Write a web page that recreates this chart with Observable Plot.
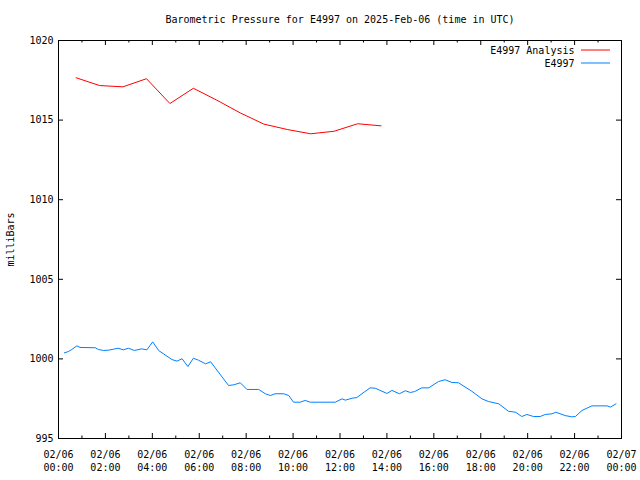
<!DOCTYPE html>
<html><head><meta charset="utf-8">
<script src="https://cdn.jsdelivr.net/npm/d3@7"></script>
<script src="https://cdn.jsdelivr.net/npm/@observablehq/plot@0.6"></script>
<style>html,body{margin:0;padding:0;background:#fff} svg{display:block}</style>
</head><body><div id="chart"></div>
<script>
const titleText = "Barometric Pressure for E4997 on 2025-Feb-06 (time in UTC)";
const yLabel = "milliBars";
const seriesNames = ["E4997 Analysis", "E4997"];
const seriesColors = ["#ff0000", "#0080ff"];
const day = "2025-02-06";

const analysisTimes = ["00:45","01:45","02:45","03:45","04:45","05:45","06:45","07:45","08:45","09:45","10:45","11:45","12:45","13:45"];
const analysisValues = [1017.66,1017.17,1017.09,1017.60,1016.04,1017.00,1016.25,1015.45,1014.75,1014.41,1014.14,1014.30,1014.77,1014.64];

const stationTimes = ["00:15","00:25","00:34","00:47","00:55","01:34","01:42","01:55","02:08","02:21","02:32","02:46","02:59","03:14","03:33","03:46","04:01","04:16","04:50","05:03","05:16","05:31","05:45","05:58","06:16","06:29","07:15","07:28","07:45","08:02","08:32","08:49","09:02","09:14","09:36","09:49","10:01","10:18","10:31","10:44","11:48","12:05","12:14","12:31","12:43","12:56","13:17","13:30","14:00","14:13","14:32","14:47","15:00","15:11","15:29","15:47","16:12","16:29","16:46","17:03","17:37","18:03","18:20","18:46","19:11","19:29","19:45","19:58","20:15","20:32","20:45","21:02","21:12","21:36","21:53","22:02","22:19","22:44","23:23","23:32","23:46"];
const stationValues = [1000.38,1000.46,1000.59,1000.82,1000.72,1000.70,1000.59,1000.53,1000.55,1000.61,1000.67,1000.57,1000.67,1000.53,1000.63,1000.57,1001.07,1000.53,999.96,999.86,1000.01,999.52,1000.04,999.92,999.69,999.82,998.33,998.37,998.50,998.08,998.08,997.81,997.70,997.81,997.81,997.70,997.28,997.28,997.39,997.28,997.28,997.49,997.41,997.53,997.57,997.81,998.18,998.16,997.83,998.02,997.81,998.00,997.89,997.95,998.18,998.18,998.58,998.69,998.52,998.50,997.97,997.49,997.32,997.18,996.71,996.65,996.38,996.51,996.38,996.38,996.51,996.55,996.65,996.44,996.36,996.38,996.76,997.05,997.05,996.97,997.18];

const yTicks = [995, 1000, 1005, 1010, 1015, 1020];
const xTickTimes = ["2025-02-06T00:00Z","2025-02-06T02:00Z","2025-02-06T04:00Z","2025-02-06T06:00Z","2025-02-06T08:00Z","2025-02-06T10:00Z","2025-02-06T12:00Z","2025-02-06T14:00Z","2025-02-06T16:00Z","2025-02-06T18:00Z","2025-02-06T20:00Z","2025-02-06T22:00Z","2025-02-07T00:00Z"];
const xTickLabels = ["02/06\n00:00","02/06\n02:00","02/06\n04:00","02/06\n06:00","02/06\n08:00","02/06\n10:00","02/06\n12:00","02/06\n14:00","02/06\n16:00","02/06\n18:00","02/06\n20:00","02/06\n22:00","02/07\n00:00"];

const W = 640, H = 480, mL = 58, mR = 19, mT = 40, mB = 42;
const PW = W - mL - mR, PH = H - mT - mB;
const majorLen = 5, minorLen = 2.5;

const toDate = t => new Date(`${day}T${t}:00Z`);
const analysis = analysisTimes.map((t, i) => ({time: toDate(t), value: analysisValues[i]}));
const station = stationTimes.map((t, i) => ({time: toDate(t), value: stationValues[i]}));
const xMajor = xTickTimes.map(s => new Date(s));
const labelMap = new Map(xMajor.map((d, i) => [+d, xTickLabels[i]]));
const xDomain = [xMajor[0], xMajor[xMajor.length - 1]];
const xMinor = d3.utcHour.range(xDomain[0], xDomain[1]).filter(d => !labelMap.has(+d));
const yDomain = [yTicks[0], yTicks[yTicks.length - 1]];

const chart = Plot.plot({
  width: W, height: H,
  marginLeft: mL, marginRight: mR, marginTop: mT, marginBottom: mB,
  style: {fontFamily: "'DejaVu Sans Mono', monospace", fontSize: "10px", background: "#fff", color: "#000"},
  x: {type: "utc", domain: xDomain, axis: null, label: null},
  y: {domain: yDomain, axis: null, label: null},
  marks: [
    Plot.line(analysis, {x: "time", y: "value", stroke: seriesColors[0], strokeWidth: 1}),
    Plot.line(station, {x: "time", y: "value", stroke: seriesColors[1], strokeWidth: 1}),
    Plot.tickY(yTicks, {y: d => d, insetRight: PW - majorLen, stroke: "#000"}),
    Plot.tickY(yTicks, {y: d => d, insetLeft: PW - majorLen, stroke: "#000"}),
    Plot.tickX(xMajor, {x: d => d, insetTop: PH - majorLen, stroke: "#000"}),
    Plot.tickX(xMajor, {x: d => d, insetBottom: PH - majorLen, stroke: "#000"}),
    Plot.tickX(xMinor, {x: d => d, insetTop: PH - minorLen, stroke: "#000"}),
    Plot.tickX(xMinor, {x: d => d, insetBottom: PH - minorLen, stroke: "#000"}),
    Plot.axisY({ticks: yTicks, tickSize: 0, tickPadding: 5, label: null, tickFormat: d => String(d)}),
    Plot.axisX({ticks: xMajor, tickSize: 0, tickPadding: 10, label: null, lineHeight: 1.3, tickFormat: d => labelMap.get(+d)}),
    Plot.text([yLabel], {text: d => d, frameAnchor: "left", dx: -48, rotate: -90, textAnchor: "middle", lineAnchor: "middle"}),
    Plot.text([titleText], {text: d => d, frameAnchor: "top", dy: -21, lineAnchor: "middle"}),
    Plot.text([seriesNames[0]], {text: d => d, frameAnchor: "top-right", dx: -47, dy: 10, textAnchor: "end", lineAnchor: "middle"}),
    Plot.text([seriesNames[1]], {text: d => d, frameAnchor: "top-right", dx: -47, dy: 23, textAnchor: "end", lineAnchor: "middle"}),
    Plot.ruleY([yDomain[1]], {y: d => d, dy: 9.5, insetLeft: PW - 40, insetRight: 11, stroke: seriesColors[0]}),
    Plot.ruleY([yDomain[1]], {y: d => d, dy: 22.5, insetLeft: PW - 40, insetRight: 11, stroke: seriesColors[1]}),
    Plot.frame({stroke: "#000"})
  ]
});
document.getElementById("chart").appendChild(chart);
</script>
</body></html>
